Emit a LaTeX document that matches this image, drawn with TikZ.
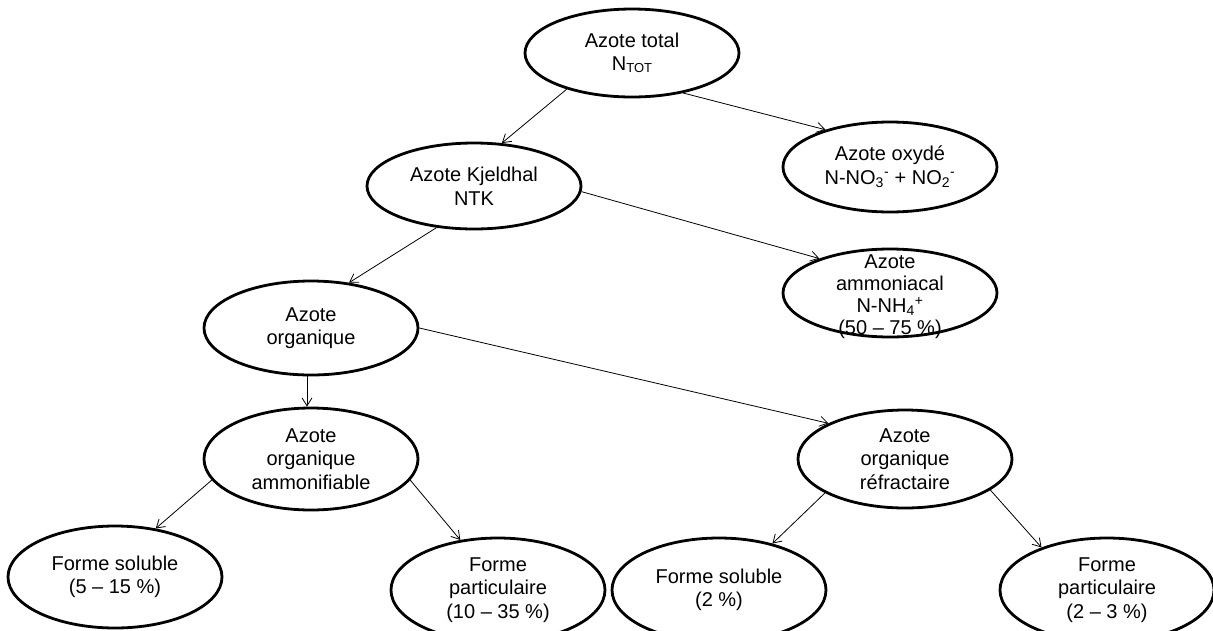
\documentclass[tikz,border=0pt]{standalone}
\usepackage{fontspec}
\setmainfont{Liberation Sans}
\usetikzlibrary{arrows.meta,shapes.geometric}
\begin{document}
\begin{tikzpicture}[x=1pt,y=-1pt,
  ell/.style={ellipse, draw, line width=2.8pt, minimum width=214pt, inner sep=0pt},
  txt/.style={align=center, font=\fontsize{20}{23.5}\selectfont, inner sep=0pt},
  conn/.style={-{Straight Barb[length=8pt,width=10pt]}, line width=0.8pt}]
\useasboundingbox (0,0) rectangle (1213,630);
\clip (0,0) rectangle (1213,630);
\node[ell, minimum height=88pt, label={[txt]center:Azote total\\N\raisebox{-0.2ex}{\fontsize{13}{13}\selectfont TOT}}] (tot) at (632,53) {};
\node[ell, minimum height=90pt, label={[txt]center:Azote oxydé\\N-NO\textsubscript{3}\textsuperscript{-} + NO\textsubscript{2}\textsuperscript{-}}] (oxy) at (890,167) {};
\node[ell, minimum height=86pt, label={[txt]center:Azote Kjeldhal\\NTK}] (kj) at (474,186) {};
\node[ell, minimum height=88pt, label={[txt, yshift=-4pt, font=\fontsize{20}{22}\selectfont]center:Azote\\ammoniacal\\N-NH\textsubscript{4}\textsuperscript{+}\\(50 – 75 \%)}] (amm) at (890,293) {};
\node[ell, minimum height=94pt, label={[txt]center:Azote\\organique}] (org) at (311,328) {};
\node[ell, minimum height=102pt, label={[txt]center:Azote\\organique\\ammonifiable}] (amf) at (311,459) {};
\node[ell, minimum height=98pt, label={[txt]center:Azote\\organique\\réfractaire}] (ref) at (905,459) {};
\node[ell, minimum height=102pt, label={[txt]center:Forme soluble\\(5 – 15 \%)}] (sol1) at (115,577) {};
\node[ell, minimum height=104pt, label={[txt]center:Forme\\particulaire\\(10 – 35 \%)}] (par1) at (498,590) {};
\node[ell, minimum height=104pt, label={[txt]center:Forme soluble\\(2 \%)}] (sol2) at (719,590) {};
\node[ell, minimum height=104pt, label={[txt]center:Forme\\particulaire\\(2 – 3 \%)}] (par2) at (1107,590) {};
\draw[conn] (tot.209) -- (kj.57);
\draw[conn] (tot.322) -- (oxy.150);
\draw[conn] (kj.357) -- (amm.154);
\draw[conn] (kj.228) -- (org.50);
\draw[conn] ([xshift=-4pt]org.south) -- ([xshift=-4pt]amf.north);
\draw[conn] (org.0) -- (ref.155);
\draw[conn] (amf.192) -- (sol1.50);
\draw[conn] (amf.348) -- (par1.127);
\draw[conn] (ref.203) -- (sol2.41);
\draw[conn] (ref.340) -- (par2.147);
\end{tikzpicture}
\end{document}
